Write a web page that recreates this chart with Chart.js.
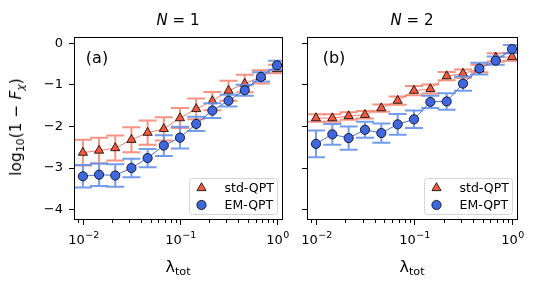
<!DOCTYPE html>
<html>
<head>
<meta charset="utf-8">
<script src="https://cdn.jsdelivr.net/npm/chart.js"></script>
<style>
body { margin: 0; background: #fff; width: 540px; height: 287px; position: relative; overflow: hidden; font-family: "DejaVu Sans", sans-serif; }
canvas { position: absolute; top: 0; }
#chartA { left: 0; }
#chartB { left: 295px; }
.txt { position: absolute; white-space: nowrap; transform: translate(-50%, -50%); color: #000; }
.sub { font-size: 70%; position: relative; top: 0.3em; }
</style>
</head>
<body>
<canvas id="chartA" width="295" height="287"></canvas>
<canvas id="chartB" width="245" height="287"></canvas>

<div class="txt" style="left:178px; top:20px; font-size:15px;"><i>N</i> = 1</div>
<div class="txt" style="left:412px; top:20px; font-size:15px;"><i>N</i> = 2</div>
<div class="txt" style="left:97px; top:57px; font-size:16px;">(a)</div>
<div class="txt" style="left:334px; top:57px; font-size:16px;">(b)</div>
<div class="txt" style="left:178px; top:266px; font-size:16px;">λ<span class="sub">tot</span></div>
<div class="txt" style="left:412px; top:266px; font-size:16px;">λ<span class="sub">tot</span></div>
<div class="txt" style="left:16px; top:127px; font-size:15.5px; transform: translate(-50%, -50%) rotate(-90deg);">log<span class="sub">10</span>(1 − <i>F</i><span class="sub"><i>χ</i></span>)</div>

<script>
// lambda_tot values (x)
const lambdaTot = [0.01, 0.01468, 0.02154, 0.03162, 0.04642, 0.06813, 0.1, 0.1468, 0.2154, 0.3162, 0.4642, 0.6813, 1.0];

// N = 1
const stdN1 = [-2.63, -2.58, -2.52, -2.32, -2.15, -2.06, -1.80, -1.58, -1.39, -1.14, -0.97, -0.81, -0.62];
const stdErrN1 = [0.31, 0.31, 0.30, 0.30, 0.29, 0.28, 0.24, 0.25, 0.22, 0.24, 0.21, 0.16, 0.10];
const emN1 = [-3.20, -3.16, -3.18, -3.00, -2.76, -2.46, -2.27, -1.94, -1.62, -1.38, -1.13, -0.81, -0.53];
const emErrN1 = [0.27, 0.27, 0.27, 0.22, 0.22, 0.25, 0.26, 0.17, 0.18, 0.14, 0.13, 0.11, 0.11];

// N = 2
const stdN2 = [-1.80, -1.80, -1.75, -1.72, -1.56, -1.38, -1.14, -1.10, -0.79, -0.73, -0.61, -0.34, -0.33];
const stdErrN2 = [0.09, 0.09, 0.09, 0.09, 0.09, 0.10, 0.11, 0.11, 0.10, 0.10, 0.09, 0.10, 0.09];
const emN2 = [-2.42, -2.19, -2.28, -2.08, -2.16, -1.95, -1.83, -1.41, -1.40, -0.97, -0.61, -0.42, -0.14];
const emErrN2 = [0.32, 0.25, 0.28, 0.19, 0.23, 0.25, 0.21, 0.15, 0.20, 0.17, 0.14, 0.10, 0.10];

const yTicks = [0, -1, -2, -3, -4];
const seriesLabels = ["std-QPT", "EM-QPT"];

const FONT = "DejaVu Sans";
Chart.defaults.color = "#000";
Chart.defaults.font.family = FONT;

// error bars drawn just before each dataset
const errorBars = {
    id: "errorBars",
    beforeDatasetDraw(chart, args) {
        const ds = chart.data.datasets[args.index];
        if (!ds.errors) return;
        const xs = chart.scales.x, ys = chart.scales.y, ctx = chart.ctx, a = chart.chartArea;
        ctx.save();
        ctx.beginPath();
        ctx.rect(a.left, a.top, a.right - a.left, a.bottom - a.top);
        ctx.clip();
        ctx.strokeStyle = ds.errorColor;
        ctx.lineWidth = 2;
        ds.data.forEach((p, i) => {
            const px = xs.getPixelForValue(p.x);
            const y1 = ys.getPixelForValue(p.y + ds.errors[i]);
            const y2 = ys.getPixelForValue(p.y - ds.errors[i]);
            ctx.beginPath();
            ctx.moveTo(px, y1); ctx.lineTo(px, y2);
            ctx.moveTo(px - 9, y1); ctx.lineTo(px + 9, y1);
            ctx.moveTo(px - 9, y2); ctx.lineTo(px + 9, y2);
            ctx.stroke();
        });
        ctx.restore();
    }
};

// full box, log ticks on x and their 10^n labels
const frame = {
    id: "frame",
    afterDraw(chart) {
        const a = chart.chartArea, ctx = chart.ctx, xs = chart.scales.x;
        ctx.save();
        ctx.strokeStyle = "#000";
        ctx.fillStyle = "#000";
        ctx.lineWidth = 1;
        ctx.strokeRect(a.left + 0.5, a.top + 0.5, a.right - a.left - 1, a.bottom - a.top - 1);
        xs.ticks.forEach(t => {
            const e = Math.floor(Math.log10(t.value) + 1e-9);
            const s = t.value / Math.pow(10, e);
            if (Math.abs(s - Math.round(s)) > 1e-6) return;
            const px = Math.round(xs.getPixelForValue(t.value)) + 0.5;
            if (px < a.left || px > a.right) return;
            const major = Math.round(s) === 1;
            ctx.beginPath();
            ctx.moveTo(px, a.bottom);
            ctx.lineTo(px, a.bottom + (major ? 5 : 3));
            ctx.stroke();
            if (major) {
                const base = "10", exp = String(e).replace("-", "−");
                ctx.font = "13px '" + FONT + "'";
                const wb = ctx.measureText(base).width;
                ctx.font = "9.5px '" + FONT + "'";
                const we = ctx.measureText(exp).width;
                const x0 = px - (wb + we) / 2;
                ctx.textAlign = "left";
                ctx.textBaseline = "alphabetic";
                ctx.font = "13px '" + FONT + "'";
                ctx.fillText(base, x0, a.bottom + 24);
                ctx.font = "9.5px '" + FONT + "'";
                ctx.fillText(exp, x0 + wb + 0.5, a.bottom + 18);
            }
        });
        ctx.restore();
    }
};

function marker(ctx, style, x, y, r) {
    ctx.beginPath();
    if (style === "triangle") {
        ctx.moveTo(x, y - r);
        ctx.lineTo(x + 0.866 * r, y + 0.5 * r);
        ctx.lineTo(x - 0.866 * r, y + 0.5 * r);
        ctx.closePath();
    } else {
        ctx.arc(x, y, r, 0, Math.PI * 2);
    }
    ctx.fill();
    ctx.stroke();
}

// legend box in lower right of the axes
const legendBox = {
    id: "legendBox",
    afterDraw(chart) {
        const a = chart.chartArea, ctx = chart.ctx;
        const w = 88, h = 36;
        const bx = Math.round(a.right - 6 - w) + 0.5, by = Math.round(a.bottom - 6 - h) + 0.5;
        ctx.save();
        ctx.beginPath();
        ctx.roundRect(bx, by, w, h, 3);
        ctx.fillStyle = "rgba(255,255,255,0.8)";
        ctx.fill();
        ctx.strokeStyle = "#d6d6d6";
        ctx.lineWidth = 1;
        ctx.stroke();
        ctx.font = "12.5px '" + FONT + "'";
        ctx.textBaseline = "middle";
        ctx.textAlign = "left";
        chart.data.datasets.forEach((ds, row) => {
            const cy = by + 9.5 + row * 17;
            ctx.fillStyle = ds.pointBackgroundColor;
            ctx.strokeStyle = "#000";
            ctx.lineWidth = 0.8;
            marker(ctx, ds.pointStyle, bx + 12, cy, ds.pointRadius);
            ctx.fillStyle = "#000";
            ctx.fillText(ds.label, bx + 35, cy + 0.5);
        });
        ctx.restore();
    }
};

function makeChart(id, std, stdErr, em, emErr, yLabels, yWidth, padRight) {
    const ctx = document.getElementById(id).getContext("2d");
    return new Chart(ctx, {
        type: "line",
        data: {
            datasets: [{
                label: seriesLabels[0],
                data: lambdaTot.map((x, i) => ({ x: x, y: std[i] })),
                errors: stdErr,
                errorColor: "rgba(247,128,108,0.85)",
                borderColor: "#f77f6a",
                borderWidth: 1,
                pointStyle: "triangle",
                pointRadius: 5.3,
                pointBackgroundColor: "#f4593f",
                pointBorderColor: "#000",
                pointBorderWidth: 0.8,
                order: 2
            }, {
                label: seriesLabels[1],
                data: lambdaTot.map((x, i) => ({ x: x, y: em[i] })),
                errors: emErr,
                errorColor: "rgba(100,145,235,0.9)",
                borderColor: "#4a72e0",
                borderWidth: 1,
                pointStyle: "circle",
                pointRadius: 4.6,
                pointBackgroundColor: "#3f68e0",
                pointBorderColor: "#000",
                pointBorderWidth: 0.8,
                order: 1
            }]
        },
        options: {
            responsive: false,
            animation: false,
            layout: { padding: { left: 0, right: padRight, top: 37, bottom: 0 } },
            plugins: { legend: { display: false }, tooltip: { enabled: false } },
            scales: {
                x: {
                    type: "logarithmic",
                    min: 0.0081,
                    max: 1.15,
                    grid: { display: false, drawTicks: false },
                    border: { display: false },
                    ticks: { display: false, autoSkip: false },
                    afterFit: s => { s.height = 67; }
                },
                y: {
                    min: -4.25,
                    max: 0.15,
                    grid: { drawOnChartArea: false, drawTicks: true, tickLength: 5, color: "#000" },
                    border: { display: false },
                    ticks: {
                        display: yLabels,
                        includeBounds: false,
                        stepSize: 1,
                        padding: 6,
                        font: { size: 13 },
                        callback: v => (yTicks.includes(v) ? String(v).replace("-", "−") : "")
                    },
                    afterFit: s => { s.width = yWidth; }
                }
            }
        },
        plugins: [errorBars, frame, legendBox]
    });
}

makeChart("chartA", stdN1, stdErrN1, emN1, emErrN1, true, 74, 12);
makeChart("chartB", stdN2, stdErrN2, emN2, emErrN2, false, 12, 22);
</script>
</body>
</html>
